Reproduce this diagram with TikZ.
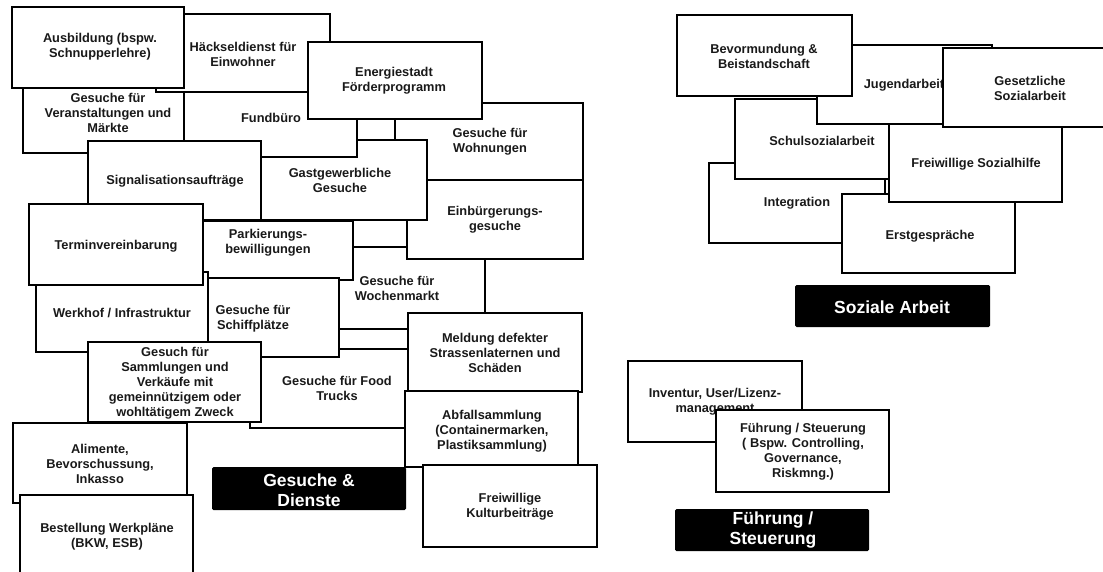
\documentclass[tikz,border=0pt]{standalone}
\usepackage{fontspec}
\setmainfont{Liberation Sans}
\tikzset{
  card/.style={draw=black, fill=white, line width=1.4pt},
  cardtext/.style={font=\bfseries\fontsize{12.8}{15}\selectfont, align=center, inner sep=0pt, text=black!90},
  banner/.style={fill=black, rounded corners=1.5pt},
  bannertext/.style={font=\bfseries\fontsize{17.5}{20}\selectfont, align=center, inner sep=0pt, text=white}
}
% \card{name}{x1}{y1}{x2}{y2}{text x}{text y}{text}
\newcommand\card[8]{%
  \filldraw[card] (#2,#3) rectangle (#4,#5);
  \node[cardtext] (#1) at (#6,#7) {#8};
}
% \banner{name}{x1}{y1}{x2}{y2}{text x}{text y}{text}
\newcommand\banner[8]{%
  \fill[banner] (#2,#3) rectangle (#4,#5);
  \node[bannertext] (#1) at (#6,#7) {#8};
}
\begin{document}
\begin{tikzpicture}[x=1pt, y=-1pt]
\useasboundingbox (0,0) rectangle (1103,571);
\clip (0,0) rectangle (1103,571);
\fill[white] (0,0) rectangle (1103,571);

% ---- Gesuche & Dienste ----
\card{wochen}{309}{247}{485}{329}{397}{288}{Gesuche für\\Wochenmarkt}
\card{einb}{407}{180}{583}{259}{495}{220}{Einbürgerungs-\\gesuche}
\card{wohn}{395}{103}{583}{180}{490}{142}{Gesuche für\\Wohnungen}
\card{gast}{253}{140}{427}{220}{340}{180}{Gastgewerbliche\\Gesuche}
\card{veran}{23}{73}{193}{153}{108}{113}{Gesuche für\\Veranstaltungen und\\Märkte}
\card{fund}{184}{79}{357}{157}{271}{118}{Fundbüro}
\card{haeck}{156}{14}{330}{92}{243}{54}{Häckseldienst für\\Einwohner}
\card{ausb}{12}{7}{184}{88}{100}{47}{Ausbildung (bspw.\\Schnupperlehre)}
\card{energ}{308}{42}{482}{119}{394}{81}{Energiestadt\\Förderprogramm}
\card{signal}{88}{141}{261}{220}{175}{181}{Signalisationsaufträge}
\card{park}{183}{221}{353}{280}{268}{243}{Parkierungs-\\bewilligungen}
\card{food}{250}{349}{424}{428}{337}{388}{Gesuche für Food\\Trucks}
\card{schiff}{167}{278}{339}{357}{253}{319}{Gesuche für\\Schiffplätze}
\card{werk}{36}{272}{208}{352}{122}{313}{Werkhof / Infrastruktur}
\card{termin}{29}{204}{203}{285}{116}{246}{Terminvereinbarung}
\card{samml}{88}{342}{261}{422}{175}{383}{Gesuch für\\Sammlungen und\\Verkäufe mit\\gemeinnützigem oder\\wohltätigem Zweck}
\card{alim}{13}{423}{187}{503}{100}{464}{Alimente,\\Bevorschussung,\\Inkasso}
\card{best}{20}{495}{193}{579}{107}{537}{Bestellung Werkpläne\\(BKW, ESB)}
\card{meld}{408}{313}{582}{392}{495}{353}{Meldung defekter\\Strassenlaternen und\\Schäden}
\card{abfall}{405}{391}{578}{467}{492}{431}{Abfallsammlung\\(Containermarken,\\Plastiksammlung)}
\card{kultur}{423}{465}{597}{547}{510}{507}{Freiwillige\\Kulturbeiträge}
\banner{gesuche}{212}{467}{406}{510}{309}{490}{Gesuche \&\\Dienste}

% ---- Soziale Arbeit ----
\card{integ}{709}{163}{885}{243}{797}{203}{Integration}
\card{schul}{735}{99}{909}{179}{822}{141}{Schulsozialarbeit}
\card{jugend}{817}{45}{992}{124}{904}{85}{Jugendarbeit}
\card{bevor}{677}{15}{852}{96}{764}{56}{Bevormundung \&\\Beistandschaft}
\card{erst}{842}{194}{1015}{273}{930}{236}{Erstgespräche}
\card{freiw}{889}{124}{1062}{202}{976}{164}{Freiwillige Sozialhilfe}
\card{gesetz}{943}{48}{1117}{127}{1030}{88}{Gesetzliche\\Sozialarbeit}
\banner{sozial}{795}{285}{990}{327}{892}{307}{Soziale Arbeit}

% ---- Führung / Steuerung ----
\card{inv}{628}{361}{802}{442}{715}{402}{Inventur, User/Lizenz-\\management}
\card{fuehr}{716}{410}{889}{492}{803}{452}{Führung / Steuerung\\( Bspw. Controlling,\\Governance,\\Riskmng.)}
\banner{fuehrung}{675}{509}{869}{551}{773}{530}{Führung /\\Steuerung}
\end{tikzpicture}
\end{document}
